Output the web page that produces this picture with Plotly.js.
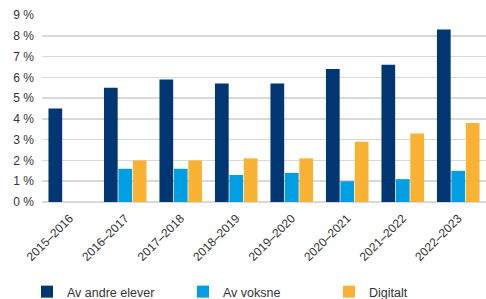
<!DOCTYPE html>
<html>
<head>
<meta charset="utf-8">
<script src="https://cdn.plot.ly/plotly-3.0.1.min.js"></script>
<style>html,body{margin:0;padding:0;background:#fff;}#chart{width:486px;height:299px;}</style>
</head>
<body>
<div id="chart"></div>
<script>
const categories = ["2015–2016","2016–2017","2017–2018","2018–2019","2019–2020","2020–2021","2021–2022","2022–2023"];
const avAndreElever = [4.5, 5.5, 5.9, 5.7, 5.7, 6.4, 6.6, 8.3];
const avVoksne = [null, 1.6, 1.6, 1.3, 1.4, 1.0, 1.1, 1.5];
const digitalt = [null, 2.0, 2.0, 2.1, 2.1, 2.9, 3.3, 3.8];
const seriesNames = ["Av andre elever", "Av voksne", "Digitalt"];
const yTickVals = [0,1,2,3,4,5,6,7,8,9];
const yTickText = yTickVals.map(v => v + " %");

const colors = ["#003671", "#009FE3", "#F9B233"];
const legendIds = ["legend", "legend2", "legend3"];
const data = [avAndreElever, avVoksne, digitalt].map((vals, i) => ({
  type: "bar",
  name: seriesNames[i],
  x: categories,
  y: vals,
  marker: {color: colors[i]},
  legend: legendIds[i],
  hoverinfo: "skip"
}));

function legendAt(xFrac) {
  return {
    orientation: "h",
    x: xFrac, xanchor: "left", xref: "container",
    y: 0.0234, yanchor: "middle", yref: "container",
    bgcolor: "rgba(0,0,0,0)",
    font: {size: 12.5, color: "#333"},
    itemclick: false
  };
}

const layout = {
  width: 486, height: 299,
  margin: {l: 42, r: 0, t: 15, b: 97},
  paper_bgcolor: "#fff", plot_bgcolor: "#fff",
  font: {family: "Liberation Sans, Arial, sans-serif", size: 12, color: "#333"},
  barmode: "group",
  bargap: 0.22,
  bargroupgap: 0.05,
  xaxis: {
    type: "category",
    tickangle: -45,
    showgrid: false,
    showline: false,
    ticks: "",
    zeroline: false,
    ticklabelstandoff: 6,
    tickfont: {size: 12, color: "#333"}
  },
  yaxis: {
    range: [0, 9],
    tickvals: yTickVals,
    ticktext: yTickText,
    showgrid: true,
    gridcolor: "#d9d9d9",
    gridwidth: 1.5,
    zeroline: true,
    zerolinecolor: "#d9d9d9",
    zerolinewidth: 1.5,
    showline: false,
    ticks: "",
    ticklen: 0,
    ticklabelstandoff: 7,
    tickfont: {size: 12, color: "#333"}
  },
  showlegend: true,
  legend: legendAt(27 / 486),
  legend2: legendAt(183 / 486),
  legend3: legendAt(329 / 486)
};

Plotly.newPlot("chart", data, layout, {staticPlot: true, displayModeBar: false});
</script>
</body>
</html>
